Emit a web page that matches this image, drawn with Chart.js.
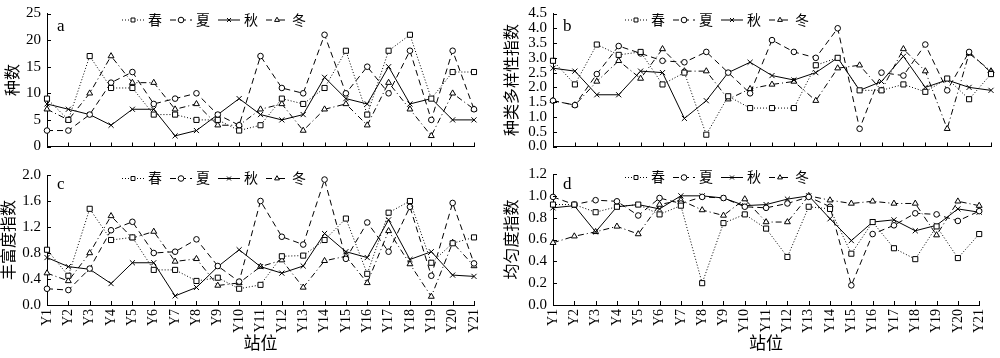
<!DOCTYPE html>
<html>
<head>
<meta charset="utf-8">
<title>站位指数</title>
<script src="https://cdn.jsdelivr.net/npm/chart.js@4/dist/chart.umd.min.js"></script>
<style>
  body { margin: 0; background: #fff; }
  #wrap { position: relative; width: 1000px; height: 358px; overflow: hidden; }
  canvas { position: absolute; }
</style>
</head>
<body>
<div id="wrap">
  <canvas id="chartA" width="500" height="160" style="left:0;top:0"></canvas>
  <canvas id="chartB" width="500" height="160" style="left:500px;top:0"></canvas>
  <canvas id="chartC" width="500" height="198" style="left:0;top:160px"></canvas>
  <canvas id="chartD" width="500" height="198" style="left:500px;top:160px"></canvas>
</div>
<script>
var stations = ["Y1","Y2","Y3","Y4","Y5","Y6","Y7","Y8","Y9","Y10","Y11",
	"Y12","Y13","Y14","Y15","Y16","Y17","Y18","Y19","Y20","Y21"];
var seasons = ["春", "夏", "秋", "冬"];

// a 种数
var speciesSpring = [9,5,17,11,11,6,6,5,5,3,4,9,8,11,18,6,18,21,9,14,14];
var speciesSummer = [3,3,6,12,14,8,9,10,6,4,17,11,10,21,10,15,10,18,5,18,7];
var speciesAutumn = [8,7,6,4,7,7,2,3,6,9,6,5,6,13,9,8,15,8,9,5,5];
var speciesWinter = [7,5,10,17,12,12,7,8,4,4,7,8,3,7,8,4,12,7,2,10,7];

// b 种类多样性指数
var divSpring = [2.9,2.1,3.45,3.1,3.2,2.1,2.5,0.4,1.7,1.3,1.3,1.3,2.75,3.0,1.9,1.9,2.1,1.85,2.3,1.6,2.45];
var divSummer = [1.55,1.4,2.45,3.4,3.15,2.9,2.85,3.2,2.5,1.8,3.6,3.2,3.0,4.0,0.6,2.5,2.4,3.45,1.9,3.2,2.5];
var divAutumn = [2.65,2.55,1.75,1.75,2.55,2.5,0.95,1.55,2.5,2.85,2.4,2.25,2.5,3.0,1.9,2.2,3.05,2.0,2.25,2.0,1.9];
var divWinter = [1.55,1.4,2.2,2.9,2.3,3.3,2.55,2.55,1.6,1.95,2.1,2.2,1.55,2.65,2.75,1.9,3.3,2.55,0.6,3.15,2.55];

// c 丰富度指数
var richSpring = [0.85,0.45,1.48,1.0,1.04,0.54,0.54,0.37,0.42,0.25,0.31,0.75,0.76,1.0,1.33,0.48,1.42,1.6,0.65,0.95,1.04];
var richSummer = [0.25,0.23,0.56,1.15,1.28,0.8,0.82,1.01,0.6,0.36,1.6,1.05,0.93,1.93,0.71,1.27,0.82,1.51,0.45,1.57,0.64];
var richAutumn = [0.73,0.59,0.55,0.33,0.65,0.65,0.14,0.27,0.59,0.85,0.59,0.49,0.6,1.1,0.82,0.73,1.31,0.7,0.82,0.46,0.44];
var richWinter = [0.49,0.37,0.8,1.37,1.03,1.13,0.67,0.71,0.3,0.34,0.59,0.69,0.27,0.68,0.75,0.34,1.14,0.63,0.13,0.96,0.6];

// d 均匀度指数
var evenSpring = [0.92,0.92,0.85,0.9,0.92,0.83,0.91,0.2,0.75,0.83,0.7,0.44,0.9,0.88,0.47,0.76,0.52,0.42,0.72,0.43,0.65];
var evenSummer = [0.99,0.92,0.96,0.95,0.82,0.98,0.93,0.99,0.98,0.9,0.89,0.93,0.99,0.9,0.18,0.65,0.73,0.84,0.83,0.77,0.86];
var evenAutumn = [0.89,0.91,0.67,0.9,0.92,0.88,1.0,1.0,0.98,0.91,0.92,0.97,1.0,0.79,0.59,0.76,0.78,0.68,0.73,0.88,0.85];
var evenWinter = [0.57,0.63,0.67,0.72,0.65,0.92,0.96,0.87,0.82,0.97,0.76,0.76,1.0,0.96,0.93,0.95,0.93,0.93,0.64,0.95,0.91];

var serif = '"Liberation Serif", "Noto Sans CJK SC", serif';
Chart.defaults.color = "#000";
Chart.defaults.font.family = serif;

// line style per season: dotted / dashed / solid / dash-dot
var styles = [
	{dash: [1, 2], point: "rect", radius: 3.6},
	{dash: [6, 4], point: "circle", radius: 2.8},
	{dash: [], point: "crossRot", radius: 3.6},
	{dash: [6, 3, 1, 3], point: "triangle", radius: 3.4}
];

function seasonSets(series) {
	return series.map(function(values, i) {
		return {
			label: seasons[i],
			data: values,
			borderColor: "#000",
			borderWidth: 1,
			borderDash: styles[i].dash,
			pointStyle: styles[i].point,
			pointRadius: styles[i].radius,
			pointBorderColor: "#000",
			pointBackgroundColor: "#fff",
			pointBorderWidth: 1,
			tension: 0,
			fill: false
		};
	});
}

////// ticks pointing into the plot //////
var inwardTicks = {
	id: "inwardTicks",
	afterDraw: function(chart) {
		var ctx = chart.ctx, area = chart.chartArea;
		var xs = chart.scales.x, ys = chart.scales.y;
		ctx.save();
		ctx.strokeStyle = "#000";
		ctx.lineWidth = 1;
		ctx.beginPath();
		xs.ticks.forEach(function(t, i) {
			var px = Math.round(xs.getPixelForTick(i)) + 0.5;
			ctx.moveTo(px, area.bottom);
			ctx.lineTo(px, area.bottom - 4);
		});
		ys.ticks.forEach(function(t, i) {
			var py = Math.round(ys.getPixelForTick(i)) + 0.5;
			ctx.moveTo(area.left, py);
			ctx.lineTo(area.left + 4, py);
		});
		ctx.stroke();
		ctx.restore();
	}
};

////// legend row + panel letter //////
var seasonLegend = {
	id: "seasonLegend",
	afterDraw: function(chart, args, opts) {
		var ctx = chart.ctx, area = chart.chartArea;
		var x = area.left + opts.dx;
		var y = area.top + opts.dy;
		ctx.save();
		ctx.textBaseline = "middle";
		chart.data.datasets.forEach(function(ds) {
			ctx.strokeStyle = "#000";
			ctx.lineWidth = 1;
			ctx.setLineDash(ds.borderDash);
			ctx.beginPath();
			ctx.moveTo(x, y + 0.5);
			ctx.lineTo(x + 22, y + 0.5);
			ctx.stroke();
			ctx.setLineDash([]);
			ctx.fillStyle = "#fff";
			Chart.helpers.drawPoint(ctx, {pointStyle: ds.pointStyle, radius: 2.8, borderWidth: 1}, x + 11, y + 0.5);
			ctx.fillStyle = "#000";
			ctx.font = '14px "Noto Sans CJK SC"';
			ctx.textAlign = "left";
			ctx.fillText(ds.label, x + 26, y);
			x += 48;
		});
		ctx.font = "17px " + serif;
		ctx.fillText(opts.tag, area.left + 10, area.top + opts.tagDy);
		ctx.restore();
	}
};

function makePanel(id, p) {
	return new Chart(document.getElementById(id), {
		type: "line",
		data: {labels: stations, datasets: seasonSets(p.series)},
		plugins: [inwardTicks, seasonLegend],
		options: {
			responsive: false,
			animation: false,
			layout: {padding: {top: p.padTop, right: p.padRight, bottom: 0, left: 0}},
			plugins: {
				legend: {display: false},
				tooltip: {enabled: false},
				seasonLegend: {dx: p.legendDx, dy: p.legendDy, tag: p.tag, tagDy: p.tagDy}
			},
			scales: {
				x: {
					offset: false,
					grid: {display: false, drawTicks: false},
					border: {color: "#000", width: 1},
					ticks: {
						display: p.showX, autoSkip: false,
						minRotation: 90, maxRotation: 90, padding: 4,
						font: {size: 14}
					},
					title: {
						display: p.showX, text: "站位",
						font: {size: 17},
						padding: {top: 0, bottom: 3}
					},
					afterFit: function(s) { s.height = p.xHeight; }
				},
				y: {
					min: 0,
					max: p.max,
					grid: {display: false, drawTicks: false},
					border: {color: "#000", width: 1},
					ticks: {
						stepSize: p.step, padding: 6, autoSkip: false,
						font: {size: 15, lineHeight: 1},
						callback: function(v) { return p.digits ? Number(v).toFixed(p.digits) : v; }
					},
					title: {
						display: true, text: p.title,
						font: {size: 16},
						padding: {top: p.titlePad, bottom: 0}
					},
					afterFit: function(s) { s.width = p.yWidth; }
				}
			}
		}
	});
}

makePanel("chartA", {
	series: [speciesSpring, speciesSummer, speciesAutumn, speciesWinter],
	title: "种数", tag: "a", max: 25, step: 5, digits: 0,
	yWidth: 47, padTop: 9, padRight: 26, xHeight: 13, showX: false,
	titlePad: 4, legendDx: 75, legendDy: 6, tagDy: 13
});

makePanel("chartB", {
	series: [divSpring, divSummer, divAutumn, divWinter],
	title: "种类多样性指数", tag: "b", max: 4.5, step: 0.5, digits: 1,
	yWidth: 53, padTop: 9, padRight: 9, xHeight: 13, showX: false,
	titlePad: 3, legendDx: 72, legendDy: 6, tagDy: 13
});

makePanel("chartC", {
	series: [richSpring, richSummer, richAutumn, richWinter],
	title: "丰富度指数", tag: "c", max: 2.0, step: 0.4, digits: 1,
	yWidth: 47, padTop: 15, padRight: 26, xHeight: 53, showX: true,
	titlePad: 0, legendDx: 75, legendDy: 3, tagDy: 10
});

makePanel("chartD", {
	series: [evenSpring, evenSummer, evenAutumn, evenWinter],
	title: "均匀度指数", tag: "d", max: 1.2, step: 0.2, digits: 1,
	yWidth: 53, padTop: 14, padRight: 9, xHeight: 53, showX: true,
	titlePad: 3, legendDx: 72, legendDy: 3, tagDy: 11
});
</script>
</body>
</html>
